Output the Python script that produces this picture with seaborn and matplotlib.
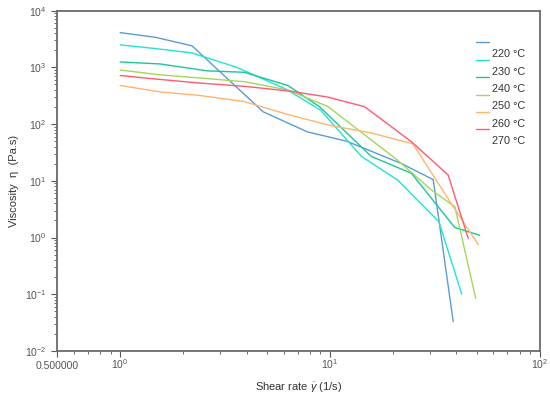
import pandas as pd
import seaborn as sns
import matplotlib
matplotlib.use("Agg")
import matplotlib.pyplot as plt

# shear rate (1/s) and viscosity (Pa.s)
temps = ["220 °C", "230 °C", "240 °C", "250 °C", "260 °C", "270 °C"]
colors = ["#5b9bd5", "#22e3d2", "#1cc59c", "#a3d65e", "#ffb570", "#ff5a72"]

rate_220 = [1.0, 1.47, 2.2, 4.8, 7.8, 12, 22, 31, 38.6]
visc_220 = [4100, 3400, 2400, 165, 73, 50, 20, 10.5, 0.033]

rate_230 = [1.0, 1.47, 2.2, 3.6, 6.2, 9.0, 14.1, 21, 33, 42.4]
visc_230 = [2500, 2150, 1800, 1000, 410, 177, 27, 10.3, 1.9, 0.1]

rate_240 = [1.0, 1.55, 2.6, 3.9, 6.3, 8.9, 15.7, 24.4, 39.3, 51.6]
visc_240 = [1250, 1150, 870, 820, 480, 203, 27, 13.6, 1.5, 1.1]

rate_250 = [1.0, 1.55, 2.4, 3.9, 6.3, 9.75, 21, 30.4, 39.3, 49.4]
visc_250 = [900, 740, 650, 560, 400, 205, 23, 6.9, 3.5, 0.085]

rate_260 = [1.0, 1.55, 2.4, 3.9, 6.4, 10, 15.7, 24.8, 38.6, 51]
visc_260 = [480, 370, 320, 250, 145, 95, 70, 45, 3.5, 0.74]

rate_270 = [1.0, 1.5, 2.4, 4.0, 6.5, 9.75, 14.6, 24.4, 36.5, 45.5]
visc_270 = [720, 620, 530, 460, 380, 300, 203, 49, 12.7, 0.97]

rates = [rate_220, rate_230, rate_240, rate_250, rate_260, rate_270]
viscs = [visc_220, visc_230, visc_240, visc_250, visc_260, visc_270]

frames = []
for t, r, v in zip(temps, rates, viscs):
    frames.append(pd.DataFrame({"rate": r, "visc": v, "temp": t}))
df = pd.concat(frames, ignore_index=True)

sns.set_style("white")
plt.rcParams["font.family"] = ["Liberation Sans", "DejaVu Sans"]
plt.rcParams["mathtext.fontset"] = "custom"
plt.rcParams["mathtext.rm"] = "Liberation Sans"
plt.rcParams["mathtext.it"] = "Liberation Sans:italic"

fig = plt.figure(figsize=(5.5, 3.96), dpi=100)
ax = fig.add_axes([0.1036, 0.1136, 0.8782, 0.8594])

sns.lineplot(
    data=df, x="rate", y="visc", hue="temp", palette=colors,
    estimator=None, sort=False, linewidth=1.0, legend=False, ax=ax,
)

ax.set_xscale("log")
ax.set_yscale("log")
ax.set_xlim(0.5, 100)
ax.set_ylim(1e-2, 1e4)

gray = "#555555"
ax.set_xticks([0.5, 1, 10, 100])
ax.set_xticklabels(["0.500000", "$10^{0}$", "$10^{1}$", "$10^{2}$"])
ax.set_yticks([1e-2, 1e-1, 1, 10, 100, 1e3, 1e4])
ax.set_yticklabels(["$10^{-2}$", "$10^{-1}$", "$10^{0}$", "$10^{1}$",
                    "$10^{2}$", "$10^{3}$", "$10^{4}$"])
ax.tick_params(which="major", direction="out", length=4, width=0.8,
               colors=gray, labelsize=7.5, bottom=True, left=True)
ax.tick_params(which="minor", direction="out", length=2, width=0.6,
               colors=gray, bottom=True, left=True)
ax.tick_params(axis="x", which="major", pad=9)
for lbl in ax.get_xticklabels():
    lbl.set_verticalalignment("baseline")
for s in ax.spines.values():
    s.set_color("#6a6a6a")
    s.set_linewidth(1.3)

ax.set_xlabel("Shear rate $\\dot{\\gamma}$ (1/s)", fontsize=8, color="#333333",
              labelpad=7)
ax.set_ylabel("Viscosity  η  (Pa.s)", fontsize=8, color="#333333")

handles = ax.get_lines()[: len(temps)]
leg = ax.legend(handles, temps, loc="upper right", bbox_to_anchor=(0.99, 0.915),
                frameon=False, fontsize=7.8, handlelength=1.2,
                handletextpad=0.3, labelspacing=0.68, labelcolor="#333333")
# the handles sit a little above their labels in the original
for ln in leg.get_lines():
    ln.set_ydata([y + 8 for y in ln.get_ydata()])

fig.savefig("out.png", dpi=100)
